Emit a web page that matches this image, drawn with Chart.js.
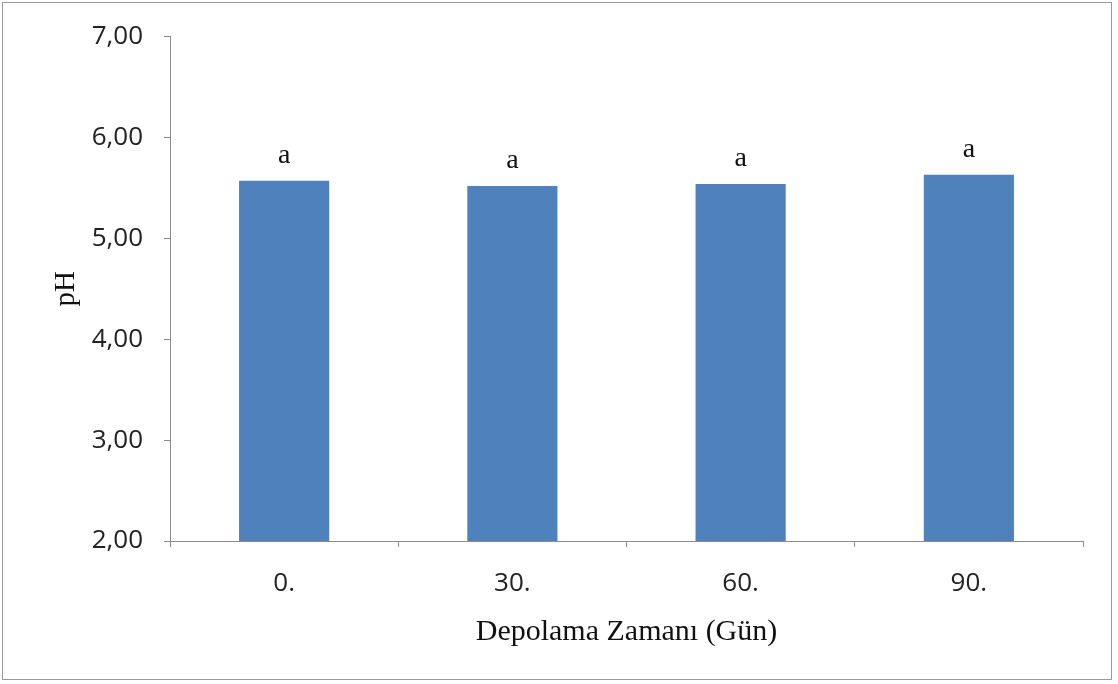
<!DOCTYPE html>
<html>
<head>
<meta charset="utf-8">
<script src="https://cdn.jsdelivr.net/npm/chart.js@4.4.0/dist/chart.umd.min.js"></script>
<style>
  html, body { margin: 0; padding: 0; background: #fff; }
  #wrap { position: absolute; left: 2px; top: 2px; width: 1110px; height: 678px; border: 1px solid #9a9a9a; box-sizing: border-box; }
  #cv { position: absolute; left: 0; top: 0; }
</style>
</head>
<body>
<div id="wrap"></div>
<canvas id="cv" width="1118" height="684"></canvas>
<script>
// gün kategorileri ve pH değerleri
const gunler = ["0.", "30.", "60.", "90."];
const phDegerleri = [5.57, 5.52, 5.54, 5.63];
const harfler = ["a", "a", "a", "a"];
const yTikler = [2, 3, 4, 5, 6, 7];

// çubukların üstüne harfleri yaz
const harfEklentisi = {
    id: "harfler",
    afterDatasetsDraw(chart) {
        const ctx = chart.ctx;
        const meta = chart.getDatasetMeta(0);
        ctx.save();
        ctx.fillStyle = "#111";
        ctx.font = "28px 'Liberation Serif'";
        ctx.textAlign = "center";
        ctx.textBaseline = "alphabetic";
        meta.data.forEach((bar, i) => {
            ctx.fillText(harfler[i], bar.x, bar.y - 18);
        });
        ctx.restore();
    }
};

const ctx = document.getElementById("cv");
new Chart(ctx, {
    type: "bar",
    data: {
        labels: gunler,
        datasets: [{
            label: "pH",
            data: phDegerleri,
            backgroundColor: "#4f81bd",
            barPercentage: 0.395,
            categoryPercentage: 1
        }]
    },
    options: {
        responsive: false,
        animation: false,
        layout: { padding: { left: 49, right: 35, top: 34, bottom: 34 } },
        plugins: {
            legend: { display: false },
            tooltip: { enabled: false }
        },
        scales: {
            x: {
                grid: { drawOnChartArea: false, color: "#8c8c8c", tickLength: 6, offset: true },
                border: { color: "#8c8c8c" },
                ticks: { color: "#222", font: { family: "'Open Sans'", size: 26 }, padding: 21 },
                title: {
                    display: true,
                    text: "Depolama Zamanı (Gün)",
                    color: "#111",
                    font: { family: "'Liberation Serif'", size: 30 },
                    padding: { top: 0, bottom: 0 }
                },
                afterFit(scale) { scale.height = 684 - 541 - 34; }
            },
            y: {
                min: 2,
                max: 7,
                grid: { drawOnChartArea: false, color: "#8c8c8c", tickLength: 6 },
                border: { color: "#8c8c8c" },
                afterBuildTicks(scale) { scale.ticks = yTikler.map(v => ({ value: v })); },
                ticks: {
                    color: "#222",
                    font: { family: "'Open Sans'", size: 26 },
                    padding: 21,
                    callback: v => v.toFixed(2).replace(".", ",")
                },
                title: {
                    display: true,
                    text: "pH",
                    color: "#111",
                    font: { family: "'Liberation Serif'", size: 29 },
                    padding: { top: 0, bottom: 0 }
                },
                afterFit(scale) { scale.width = 170 - 49; }
            }
        }
    },
    plugins: [harfEklentisi]
});
</script>
</body>
</html>
